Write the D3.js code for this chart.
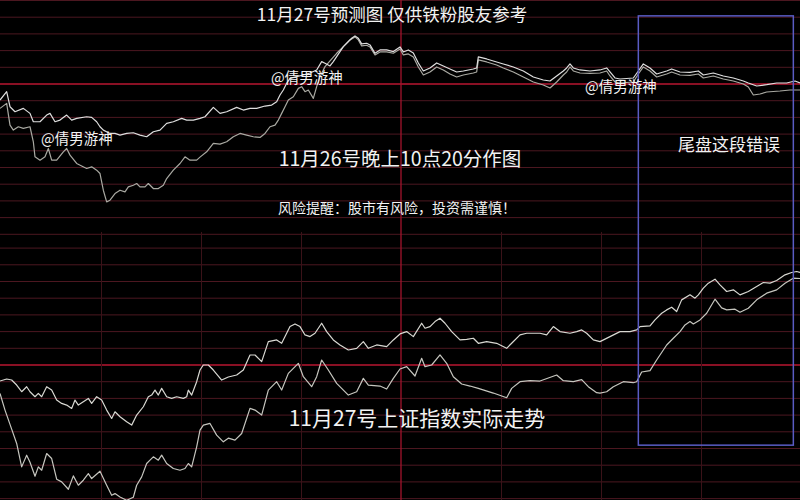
<!DOCTYPE html>
<html><head><meta charset="utf-8">
<script src="https://cdn.jsdelivr.net/npm/d3@7"></script>
<style>html,body{margin:0;padding:0;background:#000;}svg{display:block;}</style>
</head><body>
<svg id="c" width="800" height="500"></svg>
<script>
// ---- data: minutes from open (0..240) and change in index points vs. previous close ----
const predATime = [0,2,3,4.5,7,9,10,12,14,15,16.5,18,20,21.5,23,26,27.5,29,30,31,33,34.5,36,38,40,42,44,46,48,50,52,54.5,56,58,60,61.5,64,66,68,71,73,75,77,79.5,81.5,83,84,85,86,87,89,91,93,95,96.5,97.5,99,100,101,102,103,104,105.5,106.5,107.5,108.5,110,111,112.5,114,116,118,120,121,122.5,124,125.5,127,129,131,133,135,137,139,142,143,143.5,146,149,151,154,157,160,163,165,167,169,170,171,172,174,177,180,182,183,184.5,186,190,191.5,193,195,197,200,201.5,204,207,209.5,211,214,217,220,223,224.5,227,230,233,236,238.5,240];
const predAVal  = [-4.8,-2.3,-6.8,-8.3,-7.3,-8.8,-11.3,-11.3,-9.3,-8.8,-11.3,-10.8,-9.3,-10.8,-10.3,-9.8,-10,-11.3,-12.8,-13.8,-14.8,-14.8,-15.3,-14.8,-14.6,-15.3,-15.8,-14.3,-13.8,-11.8,-11.3,-10.3,-10.8,-10.8,-10.3,-9.8,-7,-8.8,-8.3,-7,-7.8,-7.3,-7.3,-6.6,-6.3,-5.3,-3.3,-1.8,0.2,1.7,2.2,2.7,3.3,4.2,6.7,6.2,5.4,6.7,8.2,9.7,11.2,12.2,13.7,14.4,13.7,12,12.2,11.7,9.2,10.2,10.2,9.7,11.1,9.6,10.2,9.3,6.3,3.9,4.8,6.3,5.4,4.5,3.6,3.9,4.5,4.8,8.1,7.5,6.6,6,5.1,3.9,2.1,1.2,0.9,2.4,3.9,4.8,6,4.8,4.2,3.9,4.2,4.8,3.6,1.8,1.5,1.8,3.9,6,4.8,3,3.9,4.5,3.6,3.5,3.9,2.7,3.3,2.4,1.8,0.9,0.3,-0.6,-0.2,0.3,0.3,0.9,0.3];

const predBTime = [0,2,3,4,5.5,7,9,10,10.5,12,13.5,14.5,15.5,17,19,20,21,23,26,27.5,29,30,31,32,33,34.5,36,37.5,38.5,40,41,42,43.5,44.5,46,47.5,49,50,52,54,55.5,57,59,60,62,64,66,68,70,72,74,76,78,79.5,81,82.5,83.5,84.5,85.5,86.5,88,89.5,90.5,91.5,92.5,94,95,96,97.5,99,101,103,105,106.5,107.5,108.5,110,111,112.5,114,116,118,120,121,122.5,124,125.5,127,129,131,133,135,137,139,142,143,143.5,146,149,151,154,157,160,163,165,167,169,170,171,172,174,177,180,182,183,184.5,186,190,191.5,193,195,197,200,201.5,204,207,209.5,211,214,217,220,223,224.5,226,228,230,234,237,240];
const predBVal  = [-7.3,-5.8,-12.3,-13.8,-12.8,-13.3,-12.8,-17.3,-21.8,-22.8,-21.8,-19.3,-22.8,-22.8,-20.3,-19.3,-21.3,-23.8,-25.3,-24.8,-25.8,-26.8,-31.8,-35.3,-34.8,-32.8,-31.8,-32.3,-30.8,-30.3,-29.8,-30.8,-30.8,-29.8,-31.3,-31.3,-30.3,-28.3,-25.8,-23.8,-21.8,-22.8,-22.8,-21.9,-20.3,-17.8,-18,-17.3,-15.8,-14.8,-15.3,-15.8,-16,-14.8,-12.8,-12.3,-10.8,-8.8,-6.8,-4.8,-3.8,-1.3,-0.8,-2.3,-1.8,-4.3,-0.8,2.2,5.2,6.9,9.2,11.2,13.2,14.1,13.2,11.4,11.6,11.1,8.7,9.6,9.6,9.2,10.5,8.7,9,8.1,5.1,2.7,3.6,5.1,4.2,3,2.1,2.7,3.3,3.6,7.2,6.6,5.7,4.8,3.6,2.1,0.6,-0.3,-1.2,0.6,2.7,3.6,5.1,3.9,3.3,3.2,3.3,3.9,2.4,0.6,0.3,0.6,3,5.1,3.9,2.1,3,3.6,2.7,2.6,3,1.8,2.4,1.5,0.9,0,-0.9,-3.3,-3,-2.4,-2.1,-1.8,-1.8];

const actualCTime = [0,2,3.5,5,6.5,8,9,10.5,11.5,12.5,14,15.5,17,18.5,20,21.5,22.5,23.5,25,26.5,27.5,29,30.5,32,33.5,34.5,36,38,39.5,41,43,44.5,45.5,46.5,47.5,48.5,50,51.5,53,55,56,56.5,57.5,59,60,61,62.5,64,66.5,68.5,71,73,75,76.5,78.5,80.5,83,84.5,87,88.5,90,91.5,93,94.5,96.5,98,100,102,104.5,107,109,110.5,113,116,118,120,122,124,126.5,127.5,129,130.5,132,133.5,135.5,138,140,142,143.5,146,149,152,153.5,156,158,162,164,166,168,171,173,174.5,176,178,180,183,186,189,191,192,195,196.5,198.5,200,201.5,203,204.5,207,208.5,209.5,211,212.5,214.5,216,218,220,222,224.5,227,229,231,233,235.5,237.5,239,240];
const actualCVal  = [-4.8,-4.2,-4.5,-6,-8,-6.5,-8,-9.5,-8.5,-9.5,-6.5,-7.5,-10.5,-11.5,-12,-13,-10.5,-12,-11,-10,-11.5,-9.5,-10.5,-13.5,-16,-14,-15.5,-17,-18,-15,-12.5,-9.5,-9,-7.5,-9,-7,-9.5,-10,-9.5,-10,-9.5,-7.5,-9,-5,-1.5,0,0,-1.5,-4.5,-3.6,-3,-1.5,3,3,1,7,7.5,6.5,11.5,12.3,11.5,9,8.5,9.5,12.5,10,7.5,6,4.5,5,7,5,6,5.5,7.5,9.3,10,8.5,12.5,11,11.5,13,14,12.5,10,7.5,7.7,8,6.5,7,6.5,5,6.5,9,9.5,9.5,9,11.5,10,9.5,10,10.5,9.5,7.5,7,8.5,10,10,10.5,11.5,11.7,13.5,15.5,16.5,17.3,16,19.5,21,20,21,23,24.5,25.7,24,22,22.5,21,22,23.5,24.7,24.5,25.3,27,27.7,28,27.7];

const actualDTime = [0,1.5,3.5,5,6.5,8,9,10.5,11.5,12.5,14,15.5,17,18.5,20.5,22,23.5,25,26.5,27.5,30,32,33.5,34.5,36,38,40,41,42.5,44,45,46,47.5,48.5,50,52,54,55.5,56.5,57.5,59,60,61,63,65,67,68.5,70.5,72.5,75,76.5,78.5,80.5,83,84.5,86.5,89.5,91,93.5,95,96.5,98.5,101,104.5,107,109,110.5,114,116,118,120,122,124.5,126.5,127.5,129.5,132,134,136,138.5,141,143.5,148,152,153.5,156,159,162,167,169,172,174.5,176.5,179,180,182,184,187,190,191,192.5,195,197,200,202,204,205.5,207,208,210,212,214.5,216.5,218,220.5,222,224.5,227,230,233,235.5,238,240];
const actualDVal  = [-8.5,-13.5,-19.2,-23.5,-30.5,-27,-29.1,-33.3,-30.5,-31.5,-26.5,-28,-34.2,-35,-37.2,-33.2,-36,-34.5,-32.5,-34,-31.8,-36,-39,-38.5,-39.5,-40.5,-39.6,-36,-33.5,-29.5,-28.5,-27.5,-28.5,-27,-29.5,-31,-31.5,-31,-29.5,-30.5,-24.5,-19.5,-18,-17.5,-21,-23,-21.9,-22.5,-20.5,-13,-13.5,-15,-7.5,-5,-7.5,-2.5,0.5,-3.5,-6.5,-3.5,1.5,-1.5,-5.5,-9,-8,-4,-6,-6.3,-7.2,-4,-1.2,-0.5,-3.3,2,-0.5,0,3,0.5,-3.5,-5.7,-6.3,-7,-8.4,-9.8,-7,-5,-4.7,-4.8,-3,-4.7,-5,-4.4,-6.5,-8.3,-8.4,-8,-6.5,-5,-5.3,-5,-2.1,-1.7,1.5,6,8,10,12,13,12.3,13.5,15.5,19.7,17.1,16.5,16.7,15.8,17,19.5,21.5,22.5,24.5,26,25.9];

const predGrid   = [25,20,15,10,5,0,-5,-10,-15,-20,-25,-30,-35,-40,-45];
const actualGrid = [35,30,25,20,15,10,5,0,-5,-10,-15,-20,-25,-30,-35,-40];
const actualVLines = [30,60,90,150,180,210];
const middayTime = 120;
const tailBox = {t0: 191.5, t1: 238, vTop: 20.4, vBottom: -24};

const titleText  = "11月27号预测图 仅供铁粉股友参考";
const madeText   = "11月26号晚上10点20分作图";
const riskText   = "风险提醒：股市有风险，投资需谨慎！";
const errText    = "尾盘这段错误";
const actualText = "11月27号上证指数实际走势";
const watermark  = "@倩男游神";

// ---- drawing ----
const svg = d3.select("#c");
const W = 800, H = 500, splitY = 232;
svg.append("rect").attr("width", W).attr("height", H).attr("fill", "#000");

const x = d3.scaleLinear().domain([0, 240]).range([0, 800]);
const yTop = d3.scaleLinear().domain([-25, 25]).range([167.5, 0.5]);
const yBot = d3.scaleLinear().domain([-25, 25]).range([448.5, 281.5]);

const gridDim = "#4c1720", gridMain = "#b81631";

// upper grid
svg.append("g").selectAll("line").data(predGrid).join("line")
  .attr("x1", 0).attr("x2", W)
  .attr("y1", d => yTop(d)).attr("y2", d => yTop(d))
  .attr("stroke", d => d === 0 ? gridMain : gridDim)
  .attr("stroke-width", d => d === 0 ? 1.6 : 1);

// lower grid
svg.append("g").selectAll("line").data(actualGrid).join("line")
  .attr("x1", 0).attr("x2", W)
  .attr("y1", d => yBot(d)).attr("y2", d => yBot(d))
  .attr("stroke", d => d === 0 ? gridMain : gridDim)
  .attr("stroke-width", d => d === 0 ? 1.6 : 1);

// lower vertical lines
svg.append("g").selectAll("line").data(actualVLines).join("line")
  .attr("x1", d => x(d) + 1.5).attr("x2", d => x(d) + 1.5)
  .attr("y1", splitY).attr("y2", H)
  .attr("stroke", "#3a1218").attr("stroke-width", 1);

// midday red vertical
svg.append("line").attr("x1", x(middayTime) + 1).attr("x2", x(middayTime) + 1)
  .attr("y1", 0).attr("y2", H).attr("stroke", "#a3132c").attr("stroke-width", 1.3);

function drawLine(times, vals, yScale, color, w) {
  const data = times.map((t, i) => [t, vals[i]]);
  svg.append("path").datum(data)
    .attr("fill", "none").attr("stroke", color).attr("stroke-width", w)
    .attr("stroke-linejoin", "round")
    .attr("d", d3.line().x(d => x(d[0])).y(d => yScale(d[1])));
}

drawLine(predBTime, predBVal, yTop, "#a9a9a2", 1.2);
drawLine(predATime, predAVal, yTop, "#dedede", 1.2);
drawLine(actualDTime, actualDVal, yBot, "#c6c6bf", 1.2);
drawLine(actualCTime, actualCVal, yBot, "#d8d8d2", 1.2);

// blue box
svg.append("rect")
  .attr("x", x(tailBox.t0)).attr("y", yTop(tailBox.vTop))
  .attr("width", x(tailBox.t1) - x(tailBox.t0))
  .attr("height", yBot(tailBox.vBottom) - yTop(tailBox.vTop))
  .attr("fill", "none").attr("stroke", "#5a5cc4").attr("stroke-width", 1.5);

// texts
const font = "'Noto Sans CJK SC', 'Noto Sans', sans-serif";
function txt(s, xx, yy, size, anchor) {
  svg.append("text").text(s).attr("x", xx).attr("y", yy)
    .attr("font-family", font).attr("font-size", size)
    .attr("fill", "#f2f2f2").attr("text-anchor", anchor || "middle");
}
txt(titleText, 392, 21, 17.5);
txt(madeText, 400, 166, 19.5);
txt(riskText, 397, 213, 14);
txt(errText, 729, 151, 17);
txt(actualText, 417, 426, 21);
txt(watermark, 41, 144, 14.5, "start");
txt(watermark, 271, 83, 14.5, "start");
txt(watermark, 585, 92, 14.5, "start");
</script>
</body></html>
